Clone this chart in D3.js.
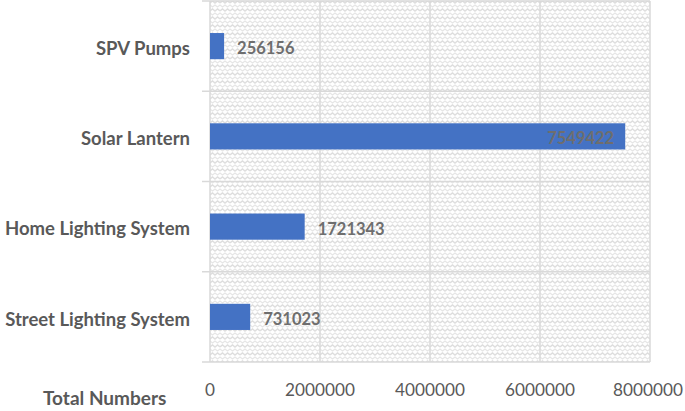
<!DOCTYPE html>
<meta charset="utf-8">
<style>
    body { margin: 0; background: #fff; }
    text { font-family: Lato, "Open Sans", sans-serif; }
</style>
<script src="https://d3js.org/d3.v7.min.js"></script>
<div id="chart"></div>
<script>
    // data, top row first
    var categories = ["SPV Pumps", "Solar Lantern", "Home Lighting System", "Street Lighting System"];
    var totals = [256156, 7549422, 1721343, 731023];
    var tickValues = [0, 2000000, 4000000, 6000000, 8000000];

    var W = 685, H = 411;
    var plot = {left: 210, right: 650, top: 1, bottom: 362};

    var svg = d3.select("#chart").append("svg")
        .attr("width", W).attr("height", H);

    // light zigzag weave, like the excel pattern fill
    var defs = svg.append("defs");
    var pat = defs.append("pattern")
        .attr("id", "weave")
        .attr("patternUnits", "userSpaceOnUse")
        .attr("width", 10).attr("height", 8);
    pat.append("rect").attr("width", 10).attr("height", 8).attr("fill", "#ffffff");
    pat.append("path")
        .attr("d", "M0,3 L2.5,1 L5,3 L7.5,1 L10,3")
        .attr("fill", "none").attr("stroke", "#dedede").attr("stroke-width", 1.4);
    pat.append("path")
        .attr("d", "M-2.5,7 L0,5 L2.5,7 L5,5 L7.5,7 L10,5 L12.5,7")
        .attr("fill", "none").attr("stroke", "#e6e6e6").attr("stroke-width", 1.2);

    var x = d3.scaleLinear().domain([0, 8000000]).range([plot.left, plot.right]);
    var y = d3.scaleBand().domain(categories).range([plot.top, plot.bottom]);

    svg.append("rect")
        .attr("x", plot.left).attr("y", plot.top)
        .attr("width", plot.right - plot.left).attr("height", plot.bottom - plot.top)
        .attr("fill", "url(#weave)");

    // vertical gridlines
    svg.append("g").selectAll("line")
        .data(tickValues)
        .enter().append("line")
        .attr("x1", d => x(d)).attr("x2", d => x(d))
        .attr("y1", plot.top).attr("y2", plot.bottom)
        .attr("stroke", "#d9d9d9").attr("stroke-width", 1.5);

    // horizontal band lines (category ticks extend left of axis)
    var bounds = categories.map(c => y(c)).concat([plot.bottom]);
    svg.append("g").selectAll("line")
        .data(bounds)
        .enter().append("line")
        .attr("x1", plot.left - 8).attr("x2", plot.right)
        .attr("y1", d => d).attr("y2", d => d)
        .attr("stroke", "#d9d9d9").attr("stroke-width", 1.5);

    // bars
    var barH = y.bandwidth() * 0.29;
    svg.append("g").selectAll("rect")
        .data(categories)
        .enter().append("rect")
        .attr("x", x(0))
        .attr("y", d => y(d) + y.bandwidth() / 2 - barH / 2)
        .attr("width", (d, i) => x(totals[i]) - x(0))
        .attr("height", barH)
        .attr("fill", "#4472c4");

    // value labels
    svg.append("g").selectAll("text")
        .data(categories)
        .enter().append("text")
        .attr("x", (d, i) => totals[i] > 5000000 ? x(totals[i]) - 11 : x(totals[i]) + 13)
        .attr("y", d => y(d) + y.bandwidth() / 2 + 2)
        .attr("dy", "0.36em")
        .attr("text-anchor", (d, i) => totals[i] > 5000000 ? "end" : "start")
        .attr("font-size", 16.5).attr("font-weight", "bold")
        .attr("fill", "#6e6e6e")
        .text((d, i) => totals[i]);

    // category labels
    svg.append("g").selectAll("text")
        .data(categories)
        .enter().append("text")
        .attr("x", 190)
        .attr("y", d => y(d) + y.bandwidth() / 2 + 2)
        .attr("dy", "0.36em")
        .attr("text-anchor", "end")
        .attr("font-size", 18.5).attr("font-weight", "bold")
        .attr("fill", "#595959")
        .text(d => d);

    // x tick labels
    svg.append("g").selectAll("text")
        .data(tickValues)
        .enter().append("text")
        .attr("x", d => d == 8000000 ? x(d) - 2 : x(d))
        .attr("y", 396)
        .attr("text-anchor", "middle")
        .attr("font-size", 17.2)
        .attr("fill", "#595959")
        .text(d => d);

    svg.append("text")
        .attr("x", 43).attr("y", 405)
        .attr("font-size", 19).attr("font-weight", "bold")
        .attr("fill", "#595959")
        .text("Total Numbers");
</script>
